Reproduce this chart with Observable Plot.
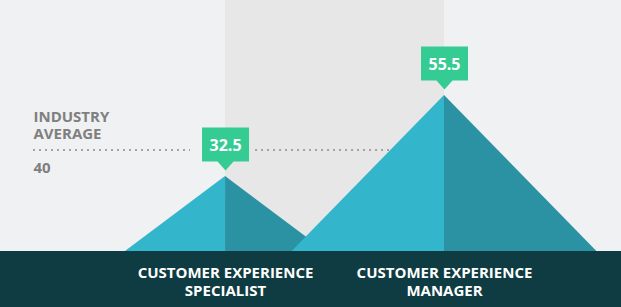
<!DOCTYPE html>
<html><head><meta charset="utf-8">
<script src="https://cdn.jsdelivr.net/npm/d3@7"></script>
<script src="https://cdn.jsdelivr.net/npm/@observablehq/plot@0.6"></script>
<style>html,body{margin:0;padding:0;background:#f0f1f3;} svg{display:block;}</style>
</head><body><div id="chart"></div>
<script>
// ---- data ----
const roles = ["CUSTOMER EXPERIENCE\nSPECIALIST", "CUSTOMER EXPERIENCE\nMANAGER"];
const salaries = [32.5, 55.5];
const industryAverage = 40;
const averageLabel = "INDUSTRY\nAVERAGE";

// ---- shape / layout config ----
const idx = roles.map((_, i) => i);
const xDomain = [-0.877, 1];          // frame spans from the labels to the second peak
const yDomain = [11.2, 82.48];
const base = yDomain[0];
const halfWidth = [0.457, 0.696];   // mountain half-base, in category units
const gapLeft = 0.16, gapRight = 0.137; // break in dotted line around the label
const light = "#33b5cb", dark = "#2b92a3";

const callout = {
  draw(ctx) {
    ctx.moveTo(-23.5, -43); ctx.lineTo(23.5, -43); ctx.lineTo(23.5, -9);
    ctx.lineTo(8, -9); ctx.lineTo(0, 0); ctx.lineTo(-8, -9);
    ctx.lineTo(-23.5, -9); ctx.closePath();
  }
};

const marks = [];
// shaded band between the two peaks
marks.push(Plot.rect([0], {x1: () => idx[0], x2: () => idx[1], fill: "#e7e7e7"}));
// industry average dotted line (two segments)
const dotted = {stroke: "#a3a3a3", strokeWidth: 2, strokeDasharray: "2,4"};
marks.push(Plot.ruleY([industryAverage], {x1: () => xDomain[0], x2: () => idx[0] - gapLeft, ...dotted}));
marks.push(Plot.ruleY([industryAverage], {x1: () => idx[0] + gapRight, x2: () => idx[1], ...dotted}));
// mountains
idx.forEach(i => {
  const v = salaries[i], hw = halfWidth[i];
  marks.push(Plot.areaY([{x: i - hw, y: base}, {x: i, y: v}], {x: "x", y1: base, y2: "y", fill: light}));
  marks.push(Plot.areaY([{x: i, y: v}, {x: i + hw, y: base}], {x: "x", y1: base, y2: "y", fill: dark}));
});
// value callouts
marks.push(Plot.dot(idx, {x: i => i, y: i => salaries[i], symbol: callout, r: 5, fill: "#35cc93", dy: -6}));
marks.push(Plot.text(idx, {x: i => i, y: i => salaries[i], text: i => salaries[i].toFixed(1),
  dy: -30.5, fill: "white", fontSize: 16, fontWeight: "bold"}));
// industry average labels
marks.push(Plot.text([industryAverage], {y: d => d, frameAnchor: "left", text: () => averageLabel,
  textAnchor: "start", lineAnchor: "bottom", dy: -10.6, lineHeight: 1.18,
  fontSize: 15, fontWeight: "bold", fill: "#7f7f7f"}));
marks.push(Plot.text([industryAverage], {y: d => d, frameAnchor: "left", text: d => String(d),
  textAnchor: "start", lineAnchor: "bottom", dy: 22.5,
  fontSize: 15, fontWeight: "bold", fill: "#7f7f7f"}));
// category axis in the footer
marks.push(Plot.axisX(idx, {tickFormat: i => roles[i], tickSize: 0, tickPadding: 14,
  fontSize: 15, fontWeight: "bold", fill: "white", color: "white", lineHeight: 1.2, label: null}));

const chart = Plot.plot({
  width: 621, height: 307,
  marginTop: 0, marginBottom: 56, marginLeft: 33, marginRight: 177,
  x: {domain: xDomain},
  y: {domain: yDomain, axis: null},
  style: {fontFamily: "'Open Sans', sans-serif",
          background: "linear-gradient(#f0f1f3 0, #f0f1f3 251px, #0e3c42 251px)",
          overflow: "visible"},
  marks
});
document.getElementById("chart").append(chart);
</script>
</body></html>
